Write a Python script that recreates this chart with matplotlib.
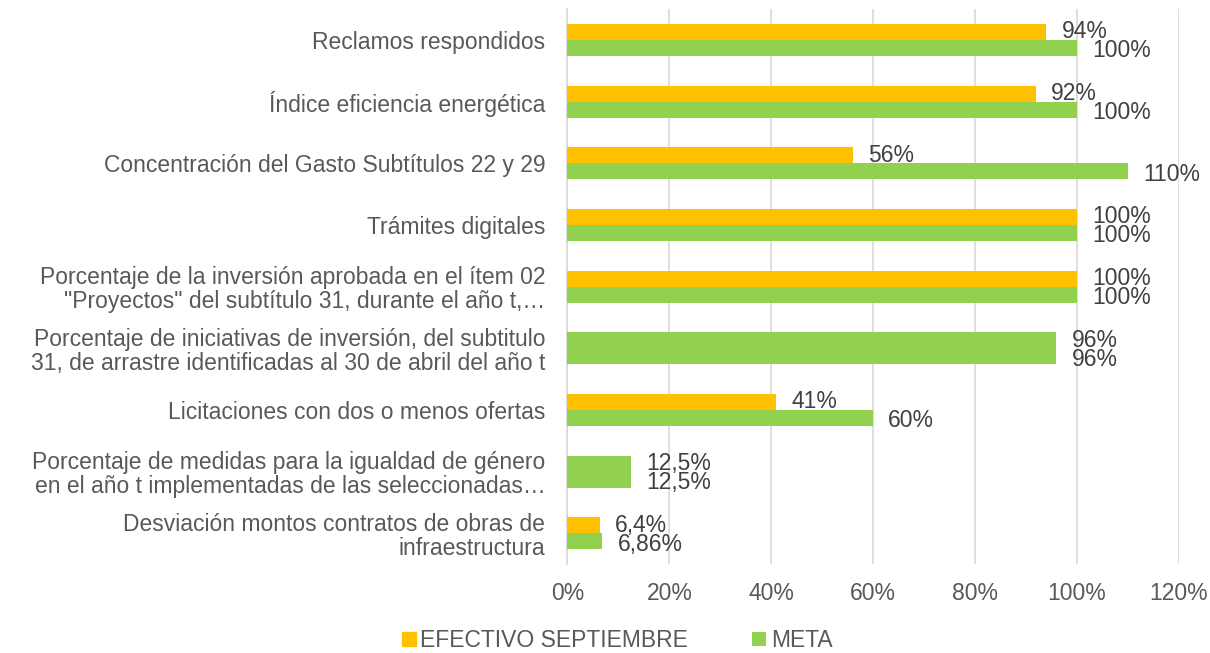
import numpy as np
import matplotlib.pyplot as plt

plt.rcParams['font.family'] = ['Liberation Sans', 'DejaVu Sans']

categorias = [
    'Reclamos respondidos',
    'Índice eficiencia energética',
    'Concentración del Gasto Subtítulos 22 y 29',
    'Trámites digitales',
    'Porcentaje de la inversión aprobada en el ítem 02\n"Proyectos" del subtítulo 31, durante el año t,…',
    'Porcentaje de iniciativas de inversión, del subtitulo\n31, de arrastre identificadas al 30 de abril del año t',
    'Licitaciones con dos o menos ofertas',
    'Porcentaje de medidas para la igualdad de género\nen el año t implementadas de las seleccionadas…',
    'Desviación montos contratos de obras de\ninfraestructura',
]
efectivo = [94, 92, 56, 100, 100, 96, 41, 12.5, 6.4]
meta = [100, 100, 110, 100, 100, 96, 60, 12.5, 6.86]
etiq_efectivo = ['94%', '92%', '56%', '100%', '100%', '96%', '41%', '12,5%', '6,4%']
etiq_meta = ['100%', '100%', '110%', '100%', '100%', '96%', '60%', '12,5%', '6,86%']

NARANJA = '#FFC000'
VERDE = '#92D050'
GRIS = '#595959'
FS = 16.5
# en el original dos barras de "efectivo" aparecen en verde
colores_efectivo = [NARANJA] * 5 + [VERDE] + [NARANJA] + [VERDE] + [NARANJA]

fig = plt.figure(figsize=(12.1, 6.53), dpi=100)
ax = fig.add_axes([0.469, 0.136, 0.505, 0.85])

y = np.arange(len(categorias))
h = 0.26
ax.barh(y - h / 2, efectivo, height=h, color=colores_efectivo, label='EFECTIVO SEPTIEMBRE', zorder=3)
ax.barh(y + h / 2, meta, height=h, color=VERDE, label='META', zorder=3)

for yi, v, t in zip(y, efectivo, etiq_efectivo):
    ax.annotate(t, (v, yi - h / 2), xytext=(11, 0), textcoords='offset points',
                ha='left', va='center', fontsize=FS, color='#404040')
for yi, v, t in zip(y, meta, etiq_meta):
    ax.annotate(t, (v, yi + h / 2), xytext=(11, -2), textcoords='offset points',
                ha='left', va='center', fontsize=FS, color='#404040')

ax.set_xlim(0, 120)
ax.set_ylim(len(categorias) - 0.5, -0.5)
ax.set_xticks(np.arange(0, 121, 20))
ax.set_xticklabels([f'{t}%' for t in range(0, 121, 20)])
ax.set_yticks(y)
ax.set_yticklabels(categorias, ha='right', multialignment='right', linespacing=1.05)
ax.tick_params(axis='both', length=0, labelsize=FS, labelcolor=GRIS)
ax.tick_params(axis='x', pad=13)
ax.tick_params(axis='y', pad=16)
ax.grid(axis='x', color='#D9D9D9', linewidth=1.2, zorder=0)
for s in ['top', 'right', 'bottom']:
    ax.spines[s].set_visible(False)
ax.spines['left'].set_color('#D9D9D9')
ax.spines['left'].set_linewidth(1.2)

leg = fig.legend(loc='lower center', bbox_to_anchor=(0.51, -0.03), ncol=2, frameon=False,
                 fontsize=FS, handlelength=0.6, handleheight=0.6, handletextpad=0.2,
                 columnspacing=2.8)
for t in leg.get_texts():
    t.set_color(GRIS)
leg.legend_handles[0].set_color(NARANJA)

fig.savefig('out.png', dpi=100)
